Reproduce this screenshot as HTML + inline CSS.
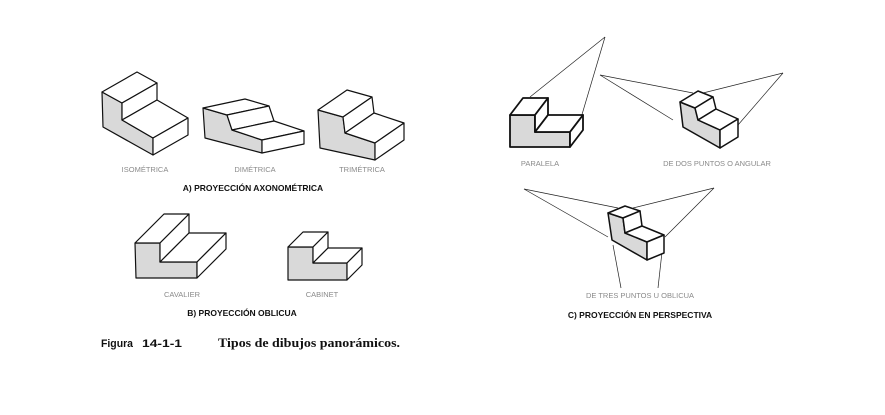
<!DOCTYPE html>
<html><head><meta charset="utf-8"><style>
html,body{margin:0;padding:0;background:#fff;width:885px;height:415px;overflow:hidden}
svg{display:block}
.l{font-family:"Liberation Sans",sans-serif;font-size:7.5px;fill:#8a8a8a;text-anchor:middle}
.h{font-family:"Liberation Sans",sans-serif;font-size:8.5px;font-weight:bold;fill:#111;text-anchor:middle}
</style></head><body>
<svg id="s" width="885" height="415" viewBox="0 0 885 415" xmlns="http://www.w3.org/2000/svg">
<g stroke="#222" stroke-width="0.7" fill="none">
<line x1="530" y1="97" x2="605" y2="37"/><line x1="578" y1="128" x2="605" y2="37"/>
<line x1="600" y1="75" x2="693" y2="93"/><line x1="600" y1="75" x2="673" y2="120"/>
<line x1="783" y1="73" x2="703" y2="93"/><line x1="783" y1="73" x2="738" y2="125"/>
<line x1="524" y1="189" x2="618" y2="208"/><line x1="524" y1="189" x2="608" y2="237"/>
<line x1="714" y1="188" x2="633" y2="208"/><line x1="714" y1="188" x2="665" y2="237"/>
<line x1="613" y1="245" x2="621" y2="288"/><line x1="662" y1="252" x2="658" y2="288"/>
</g>
<g id="shapes"></g>
<text class="l" x="145" y="172">ISOMÉTRICA</text>
<text class="l" x="255" y="172">DIMÉTRICA</text>
<text class="l" x="362" y="172">TRIMÉTRICA</text>
<text class="h" x="253" y="191">A) PROYECCIÓN AXONOMÉTRICA</text>
<text class="l" x="182" y="297">CAVALIER</text>
<text class="l" x="322" y="297">CABINET</text>
<text class="h" x="242" y="316">B) PROYECCIÓN OBLICUA</text>
<text class="l" x="540" y="166">PARALELA</text>
<text class="l" x="717" y="166">DE DOS PUNTOS O ANGULAR</text>
<text class="l" x="640" y="298">DE TRES PUNTOS U OBLICUA</text>
<text class="h" x="640" y="318">C) PROYECCIÓN EN PERSPECTIVA</text>
<text x="101" y="347" textLength="32" lengthAdjust="spacingAndGlyphs" style="font-family:'Liberation Sans',sans-serif;font-size:11px;font-weight:bold;fill:#111">Figura</text>
<text x="142" y="347" textLength="40" lengthAdjust="spacingAndGlyphs" style="font-family:'Liberation Sans',sans-serif;font-size:11px;font-weight:bold;fill:#111">14-1-1</text>
<text x="218" y="347" textLength="182" lengthAdjust="spacingAndGlyphs" style="font-family:'Liberation Serif',serif;font-size:13px;font-weight:bold;fill:#111">Tipos de dibujos panorámicos.</text>
</svg>
<script>
var S=[
 {P:[[102,92],[122,103],[122,120],[153,138],[153,155],[103,127]],V:[35,-20],w:1.2},
 {P:[[203,108],[227,115],[232,130],[262,140],[262,153],[205,138]],V:[42,-9],w:1.2},
 {P:[[318,110],[343,117],[345,133],[375,143],[375,160],[320,148]],V:[29,-20],w:1.2},
 {P:[[135,243],[160,243],[160,262],[197,262],[197,278],[136,278]],V:[29,-29],w:1.2},
 {P:[[288,247],[313,247],[313,263],[347,263],[347,280],[288,280]],V:[15,-15],w:1.2},
 {P:[[510,115],[535,115],[535,132],[570,132],[570,147],[510,147]],V:[13,-17],w:1.8},
 {P:[[680,102],[695,108],[698,120],[720,130],[720,148],[683,127]],V:[18,-11],w:1.5},
 {P:[[608,213],[623,218],[625,233],[647,242],[647,260],[612,240]],V:[17,-7],w:1.5}
];
var g=document.getElementById('shapes'),h='';
function pt(p){return p[0]+','+p[1]}
function q(a,b,V){return [a,b,[b[0]+V[0],b[1]+V[1]],[a[0]+V[0],a[1]+V[1]]].map(pt).join(' ')}
S.forEach(function(s){var P=s.P,V=s.V,st=' stroke="#111" stroke-width="'+s.w+'" stroke-linejoin="round"';
 h+='<polygon points="'+P.map(pt).join(' ')+'" fill="#d9d9d9"'+st+'/>';
 [[0,1],[1,2],[2,3],[3,4]].forEach(function(e){h+='<polygon points="'+q(P[e[0]],P[e[1]],V)+'" fill="#fff"'+st+'/>';});
});
g.innerHTML=h;
</script>
</body></html>
